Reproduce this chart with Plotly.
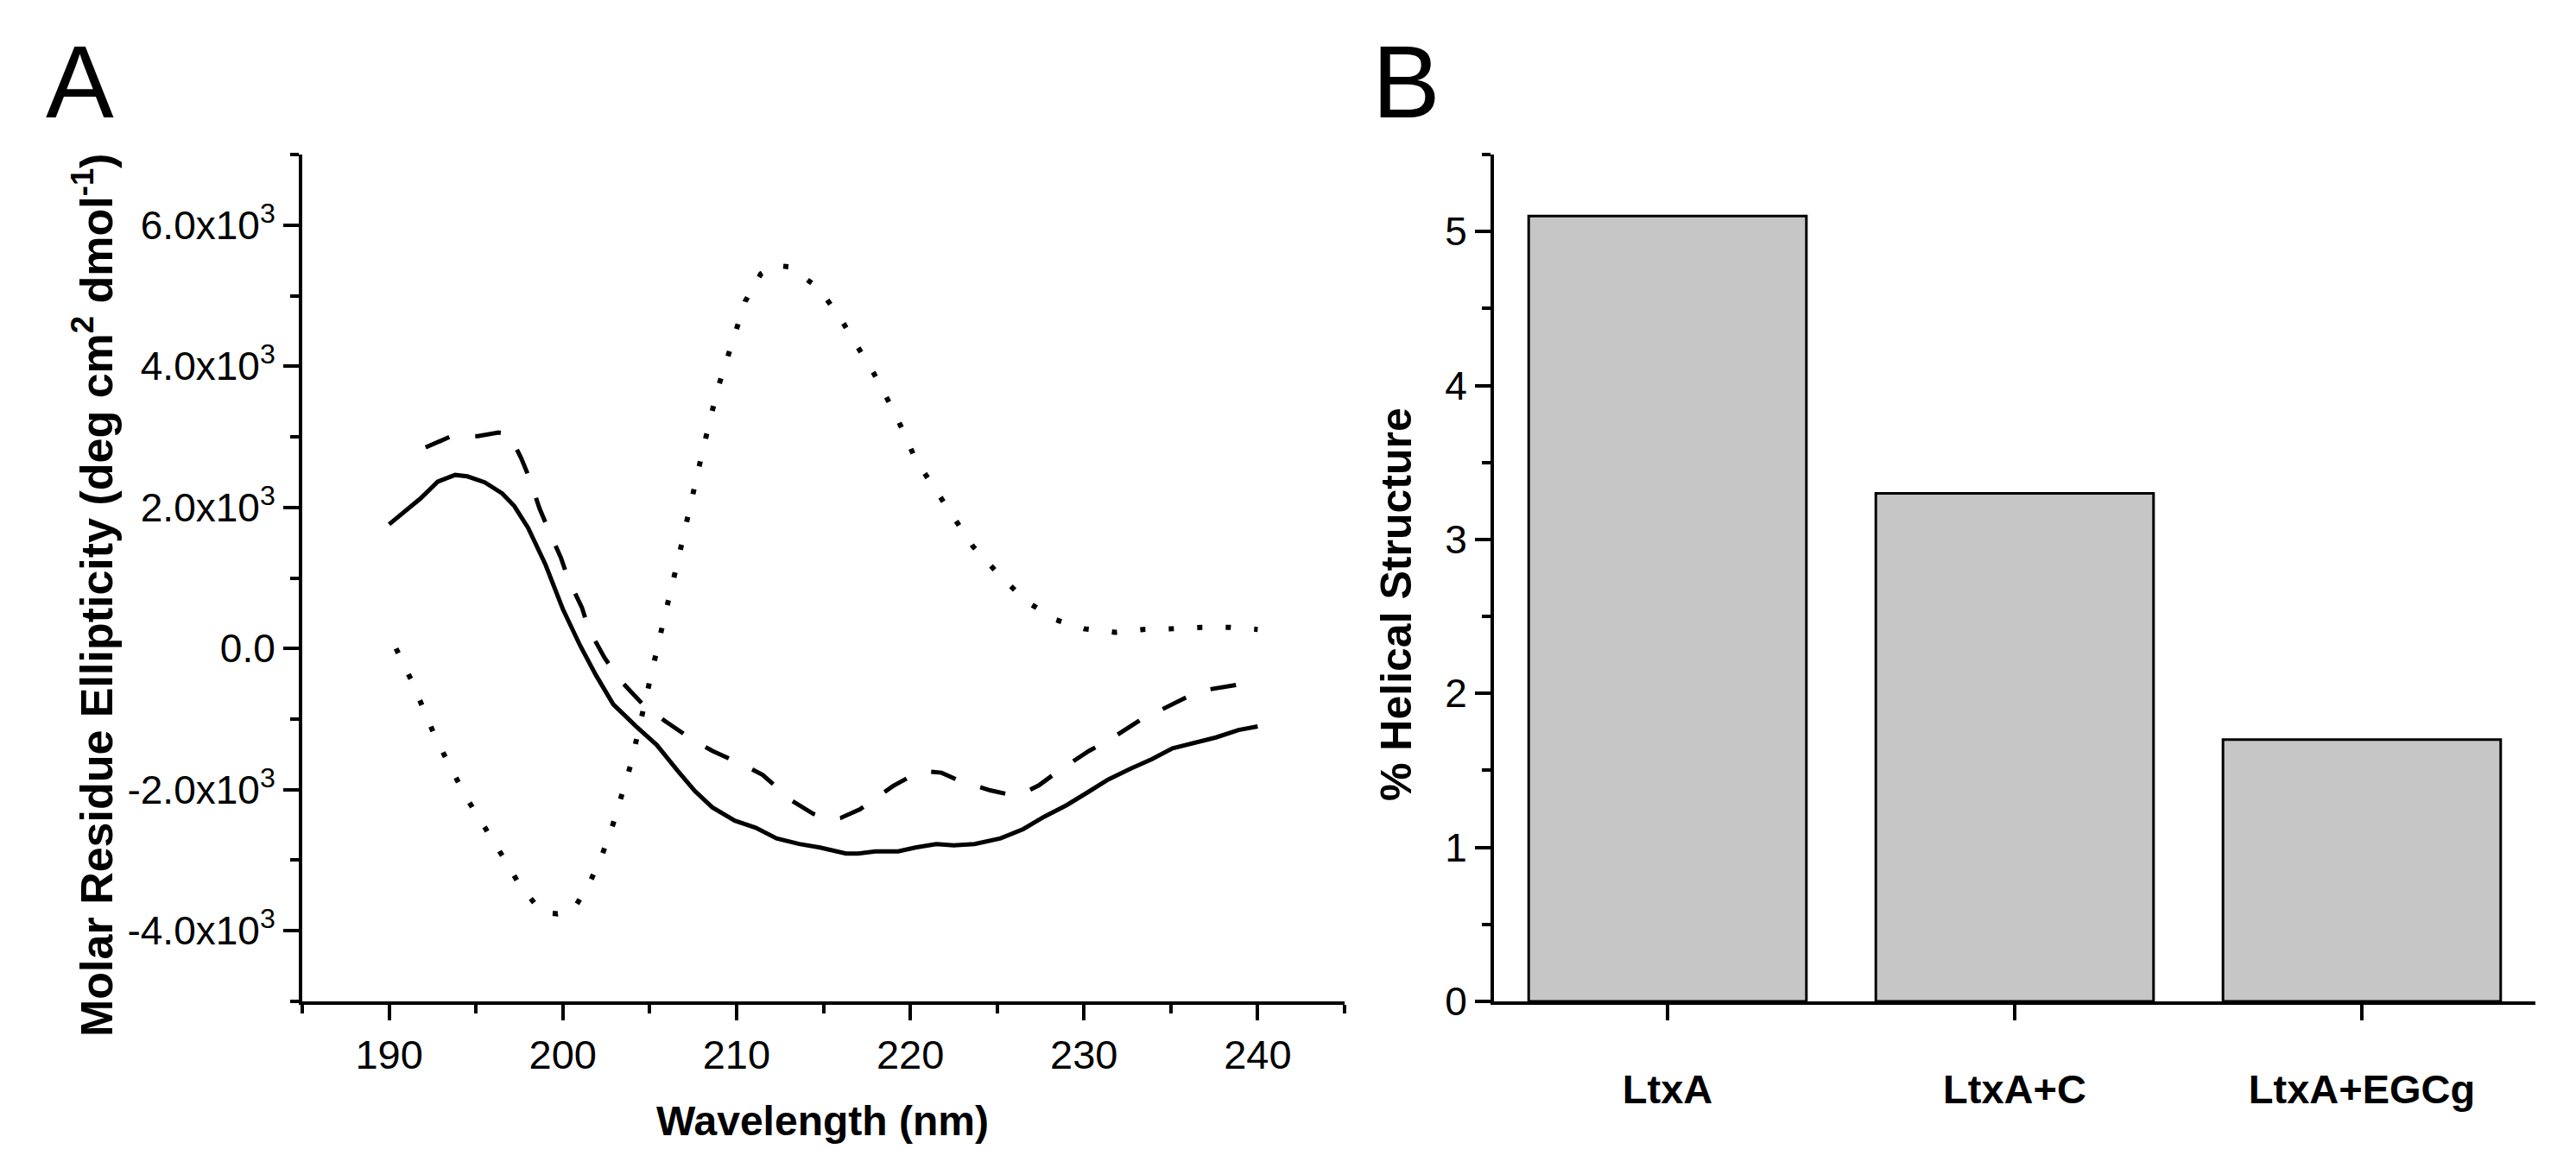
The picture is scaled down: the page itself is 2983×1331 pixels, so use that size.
import plotly.graph_objects as go

# ---------------- Data ----------------
# Panel A: CD spectra (wavelength nm, molar residue ellipticity)
solid_x = [190.0, 190.8, 191.8, 192.8, 193.8, 194.5, 195.5, 196.5, 197.2, 198.0, 199.0, 200.0,
           201.0, 201.9, 202.9, 204.2, 205.4, 206.6, 207.6, 208.6, 209.9, 211.1, 212.3, 213.6,
           214.8, 216.3, 217.0, 218.0, 219.3, 220.3, 221.5, 222.5, 223.7, 225.2, 226.5, 227.7,
           229.0, 230.2, 231.4, 232.7, 233.9, 235.1, 236.4, 237.6, 238.9, 240.0]
solid_y = [1760, 1917, 2125, 2365, 2460, 2440, 2355, 2200, 2020, 1710, 1190, 560,
           40, -375, -790, -1100, -1365, -1730, -2020, -2250, -2440, -2540, -2690, -2770,
           -2820, -2905, -2905, -2875, -2875, -2820, -2770, -2790, -2770, -2690, -2560, -2385,
           -2220, -2040, -1855, -1700, -1570, -1415, -1330, -1260, -1155, -1105]

dash_x = [192.1, 193.5, 195.1, 196.3, 196.9, 197.6, 198.1, 198.65, 199.2, 199.9, 200.3, 201.1,
          201.5, 202.4, 203.3, 204.6, 205.9, 207.5, 208.6, 210.4, 211.5, 213.2, 214.4, 215.4,
          216.0, 217.1, 219.0, 220.1, 221.0, 221.8, 222.8, 224.6, 225.7, 226.5, 227.4, 228.5,
          230.3, 231.5, 233.2, 234.3, 236.0, 237.2, 238.9, 240.0]
dash_y = [2850, 3000, 3010, 3060, 3040, 2700, 2400, 1990, 1670, 1280, 990, 580,
          270, -130, -450, -790, -1030, -1300, -1450, -1650, -1790, -2160, -2340, -2420,
          -2400, -2280, -1950, -1800, -1740, -1760, -1870, -2010, -2070, -2050, -1940, -1740,
          -1450, -1290, -1020, -880, -680, -580, -510, -430]

dot_x = [190.4, 191.3, 192.7, 194.4, 196.5, 197.5, 198.8, 199.7, 200.6, 201.6, 202.3, 202.9,
         203.9, 205.0, 205.8, 206.6, 207.3, 208.1, 208.9, 210.0, 210.5, 211.4, 212.2, 213.0,
         214.7, 215.9, 216.9, 217.9, 218.8, 219.6, 220.3, 221.4, 222.5, 223.6, 225.1, 226.7,
         228.4, 230.0, 231.8, 233.4, 235.1, 236.8, 238.4, 240.0]
dot_y = [0, -460, -1280, -2095, -2930, -3345, -3740, -3760, -3710, -3290, -2900, -2480,
         -1655, -430, 395, 1220, 2020, 2855, 3670, 4490, 4920, 5310, 5430, 5410,
         5115, 4710, 4310, 3900, 3480, 3080, 2680, 2280, 1855, 1450, 1050, 665,
         405, 280, 230, 270, 280, 300, 300, 270]

x_ticks_a = [190, 200, 210, 220, 230, 240]
y_ticks_a = [-4000, -2000, 0, 2000, 4000, 6000]
y_ticktext_a = ["-4.0x10<sup>3</sup>", "-2.0x10<sup>3</sup>", "0.0",
                "2.0x10<sup>3</sup>", "4.0x10<sup>3</sup>", "6.0x10<sup>3</sup>"]

# Panel B: helical content
categories = ["LtxA", "LtxA+C", "LtxA+EGCg"]
helical = [5.1, 3.3, 1.7]

# ---------------- Figure ----------------
FONT = "Liberation Sans, Arial, Helvetica, sans-serif"
W, H = 2983, 1331

fig = go.Figure()

fig.add_trace(go.Scatter(x=solid_x, y=solid_y, mode="lines",
                         line=dict(color="black", width=5), xaxis="x", yaxis="y",
                         showlegend=False, hoverinfo="skip"))
fig.add_trace(go.Scatter(x=dash_x, y=dash_y, mode="lines",
                         line=dict(color="black", width=5, dash="30px,30px"),
                         xaxis="x", yaxis="y", showlegend=False, hoverinfo="skip"))
fig.add_trace(go.Scatter(x=dot_x, y=dot_y, mode="lines",
                         line=dict(color="black", width=6, dash="6px,27px"),
                         xaxis="x", yaxis="y", showlegend=False, hoverinfo="skip"))

fig.add_trace(go.Bar(x=list(range(len(categories))), y=helical, width=0.8,
                     marker=dict(color="#C6C6C6", line=dict(color="black", width=3)),
                     xaxis="x2", yaxis="y2", showlegend=False, hoverinfo="skip"))

axis_common = dict(showline=True, linewidth=4, linecolor="black", ticks="outside",
                   ticklen=18, tickwidth=4, tickcolor="black", showgrid=False,
                   zeroline=False, automargin=False,
                   tickfont=dict(family=FONT, size=46, color="black"))

y0 = 1 - 1160 / H
y1 = 1 - 179 / H

fig.update_layout(
    width=W, height=H, autosize=False,
    margin=dict(l=0, r=0, t=0, b=0),
    paper_bgcolor="white", plot_bgcolor="white",
    xaxis=dict(domain=[350 / W, 1557 / W], range=[184.999, 245.001],
               tickmode="array", tickvals=x_ticks_a, anchor="y",
               minor=dict(dtick=5, tick0=185, ticks="outside", ticklen=10,
                          tickwidth=4, tickcolor="black"),
               **{**axis_common, "tickfont": dict(family=FONT, size=47, color="black")}),
    yaxis=dict(domain=[y0, y1], range=[-5000.5, 7000.5],
               tickmode="array", tickvals=y_ticks_a, ticktext=y_ticktext_a, anchor="x",
               minor=dict(dtick=1000, tick0=-5000, ticks="outside", ticklen=10,
                          tickwidth=4, tickcolor="black"),
               **axis_common),
    xaxis2=dict(domain=[1730 / W, 2936 / W], range=[-0.5, 2.5],
                tickmode="array", tickvals=[0, 1, 2],
                ticktext=["<b>" + c + "</b>" for c in categories], anchor="y2",
                ticklabelstandoff=40,
                **{**axis_common, "tickfont": dict(family=FONT, size=47, color="black")}),
    yaxis2=dict(domain=[y0, y1], range=[0, 5.5001], dtick=1, tick0=0, anchor="x2",
                minor=dict(dtick=0.5, tick0=0, ticks="outside", ticklen=10,
                           tickwidth=4, tickcolor="black"),
                **axis_common),
)

fig.add_annotation(text="A", x=92 / W, y=1 - 95 / H, xref="paper", yref="paper",
                   xanchor="center", yanchor="middle", showarrow=False,
                   font=dict(family=FONT, size=118, color="black"))
fig.add_annotation(text="B", x=1628 / W, y=1 - 95 / H, xref="paper", yref="paper",
                   xanchor="center", yanchor="middle", showarrow=False,
                   font=dict(family=FONT, size=118, color="black"))
fig.add_annotation(text="<b>Wavelength (nm)</b>", x=953 / W, y=1 - 1298 / H,
                   xref="paper", yref="paper", xanchor="center", yanchor="middle",
                   showarrow=False, font=dict(family=FONT, size=48, color="black"))
fig.add_annotation(text="<b>Molar Residue Ellipticity (deg cm<sup>2</sup> dmol<sup>-1</sup>)</b>",
                   x=108 / W, y=1 - 690 / H, xref="paper", yref="paper",
                   xanchor="center", yanchor="middle", textangle=-90,
                   showarrow=False, font=dict(family=FONT, size=52, color="black"))
fig.add_annotation(text="<b>% Helical Structure</b>", x=1617 / W, y=1 - 700 / H,
                   xref="paper", yref="paper", xanchor="center", yanchor="middle",
                   textangle=-90, showarrow=False, font=dict(family=FONT, size=50, color="black"))

fig.write_html("out.html", config={"displayModeBar": False},
               post_script="document.body.style.margin='0';document.body.style.overflow='hidden';")
